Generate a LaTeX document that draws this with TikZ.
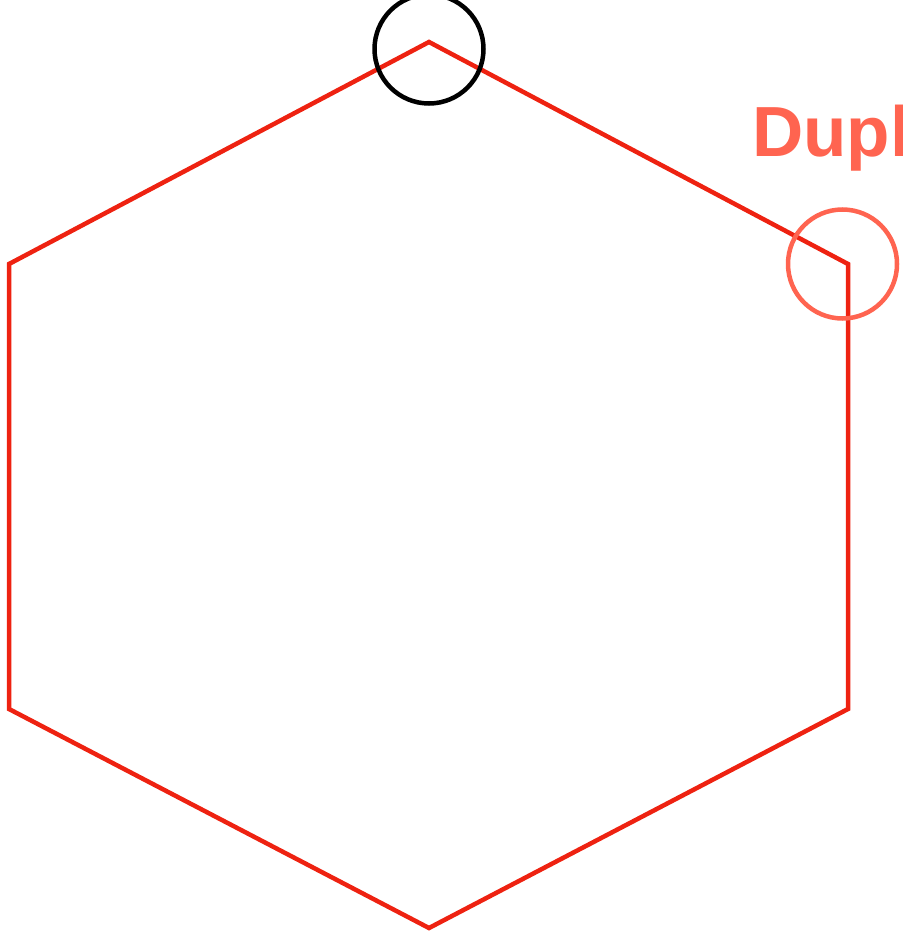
\documentclass[tikz,border=0pt]{standalone}
\usepackage{fontspec}
\setmainfont{Liberation Sans}
\usetikzlibrary{positioning, calc}
\definecolor{hexred}{RGB}{238, 34, 17}
\definecolor{dupcoral}{RGB}{255, 100, 80}
\tikzset{
  hexline/.style={draw=hexred, line width=4.5pt, line join=miter},
  marknode/.style={circle, draw, line width=4.5pt, minimum size=109pt, inner sep=0pt},
  origmark/.style={marknode, draw=black},
  dupmark/.style={marknode, draw=dupcoral},
  duplabel/.style={anchor=base west, inner sep=0pt, text=dupcoral, font=\fontsize{71}{71}\selectfont\bfseries},
}
\begin{document}
\begin{tikzpicture}[x=1pt, y=-1pt]
  \useasboundingbox (0,0) rectangle (902,931);
  \clip (0,0) rectangle (902,931);
  \coordinate (top) at (429,42);
  \coordinate (ur) at (848,264);
  \coordinate (lr) at (848,709);
  \coordinate (bot) at (429,928);
  \coordinate (ll) at (9,709);
  \coordinate (ul) at (9,264);
  \draw[hexline] (top)--(ur)--(lr)--(bot)--(ll)--(ul)--cycle;
  \node[origmark] (orig) at (429,49) {};
  \node[dupmark] (dup) at (842.5,264) {};
  \node[duplabel] (duptext) at (752,156) {Duplicate};
\end{tikzpicture}
\end{document}
